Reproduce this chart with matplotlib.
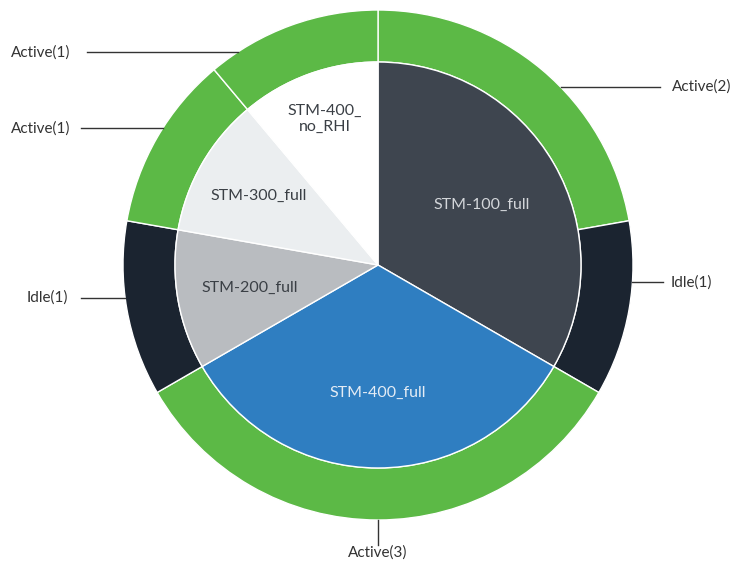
import numpy as np
import matplotlib
matplotlib.use("Agg")
import matplotlib.pyplot as plt

# inner ring: jobs
inner_labels = ["STM-100_full", "STM-400_full", "STM-200_full", "STM-300_full", "STM-400_\nno_RHI"]
inner_values = [3, 3, 1, 1, 1]
inner_colors = ["#3e454f", "#2f7ec1", "#b9bcc0", "#ebeef0", "#ffffff"]
inner_text_colors = ["#d3d6da", "#e4ecf5", "#3a3f45", "#3a3f45", "#3a3f45"]
inner_label_r = [0.47, 0.50, 0.51, 0.54, 0.61]

# outer ring: state
outer_labels = ["Active(2)", "Idle(1)", "Active(3)", "Idle(1)", "Active(1)", "Active(1)"]
outer_values = [2, 1, 3, 1, 1, 1]
outer_colors = ["#5cb946", "#1b2430", "#5cb946", "#1b2430", "#5cb946", "#5cb946"]

plt.rcParams['font.family'] = ['Lato', 'DejaVu Sans']
FS_IN = 11.5
FS_OUT = 11

fig = plt.figure(figsize=(7.46, 5.68), dpi=100)
ax = fig.add_axes([0, 0, 1, 1])

R = 1.0
w = 0.204
r_in = R - w

ax.pie(outer_values, radius=R, colors=outer_colors, startangle=90, counterclock=False,
       wedgeprops=dict(width=w, edgecolor='white', linewidth=1))
ax.pie(inner_values, radius=r_in, colors=inner_colors, startangle=90, counterclock=False,
       wedgeprops=dict(edgecolor='white', linewidth=1))
ax.set_xlim(-378 / 255, (746 - 378) / 255)
ax.set_ylim(-(568 - 265) / 255, 265 / 255)
ax.set_aspect('equal')
ax.axis('off')

# inner labels at slice mid angles
tot = sum(inner_values)
start = 90.0
for lab, v, c, r in zip(inner_labels, inner_values, inner_text_colors, inner_label_r):
    span = 360.0 * v / tot
    mid = np.deg2rad(start - span / 2)
    ax.text(r * np.cos(mid), r * np.sin(mid), lab, ha='center', va='center',
            fontsize=FS_IN, color=c, linespacing=1.15)
    start -= span

# outer labels with leader lines: label y, line far end x, text x
label_y = [0.698, -0.067, None, -0.129, 0.537, 0.835]
line_x = [1.106, 1.118, None, -1.165, -1.165, -1.141]
text_x = [1.153, 1.149, 0.0, -1.216, -1.208, -1.208]
line_col = "#333333"
for lab, y, lx, tx in zip(outer_labels, label_y, line_x, text_x):
    if y is None:
        ax.plot([0, 0], [-R, -1.098], color=line_col, lw=1)
        ax.text(tx, -1.129, lab, ha='center', va='center', fontsize=FS_OUT, color='#333333')
        continue
    xr = np.sqrt(R**2 - y**2)
    if lx > 0:
        ax.plot([xr, lx], [y, y], color=line_col, lw=1)
        ax.text(tx, y, lab, ha='left', va='center', fontsize=FS_OUT, color='#333333')
    else:
        ax.plot([-xr, lx], [y, y], color=line_col, lw=1)
        ax.text(tx, y, lab, ha='right', va='center', fontsize=FS_OUT, color='#333333')

fig.savefig("out.png", dpi=100, facecolor='white')
